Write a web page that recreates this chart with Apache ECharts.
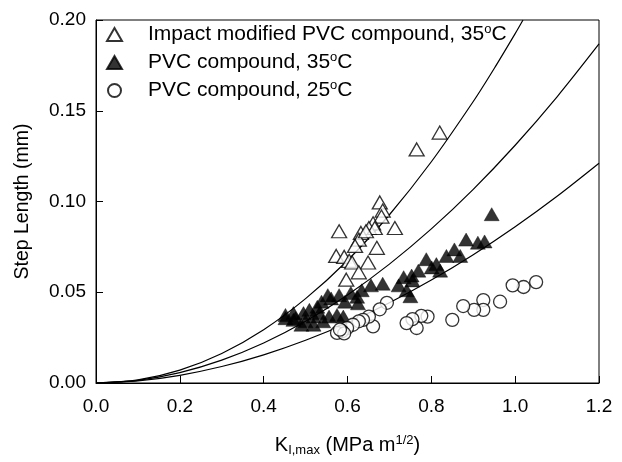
<!DOCTYPE html>
<html>
<head>
    <meta charset="UTF-8">
    <title>Step length vs K_I,max</title>
    <script src="https://cdn.jsdelivr.net/npm/echarts@6/dist/echarts.min.js"></script>
    <style>
        html, body { margin: 0; padding: 0; background: #fff; }
        #main { width: 622px; height: 462px; }
    </style>
</head>
<body>
    <div id="main"></div>
    <script type="text/javascript">
        // Series names
        const seriesNames = [
            'Impact modified PVC compound, 35°C',
            'PVC compound, 35°C',
            'PVC compound, 25°C'
        ];

        // Axis ticks
        const xTicks = [0.0, 0.2, 0.4, 0.6, 0.8, 1.0, 1.2];
        const yTicks = [0.00, 0.05, 0.10, 0.15, 0.20];

        // Impact modified PVC compound, 35 C (open triangles)
        const impactX = [0.820, 0.765, 0.677, 0.684, 0.713, 0.681, 0.661, 0.580, 0.651, 0.665,
                         0.632, 0.627, 0.618, 0.670, 0.573, 0.592, 0.604, 0.611, 0.649, 0.627,
                         0.597, 0.644];
        const impactY = [0.138, 0.1287, 0.0995, 0.095, 0.0854, 0.0917, 0.088, 0.0836, 0.0854, 0.0854,
                         0.0827, 0.079, 0.0755, 0.0745, 0.070, 0.0695, 0.0673, 0.0664, 0.0664, 0.061,
                         0.0569, 0.0836];

        // PVC compound, 35 C (filled triangles)
        const pvc35X = [0.944, 0.883, 0.911, 0.927, 0.855, 0.836, 0.869, 0.788, 0.812, 0.801,
                        0.821, 0.769, 0.753, 0.734, 0.722, 0.755, 0.741, 0.750, 0.684, 0.656,
                        0.634, 0.608, 0.623, 0.594, 0.625, 0.580, 0.553, 0.561, 0.538, 0.528,
                        0.509, 0.495, 0.471, 0.452, 0.452, 0.476, 0.500, 0.490, 0.519, 0.542,
                        0.556, 0.575, 0.590, 0.519, 0.533, 0.471];
        const pvc35Y = [0.093, 0.079, 0.0773, 0.078, 0.0736, 0.070, 0.070, 0.0682, 0.0655, 0.0637,
                        0.0619, 0.0619, 0.0592, 0.0583, 0.0538, 0.0565, 0.0511, 0.0478, 0.0547, 0.0538,
                        0.0511, 0.0496, 0.0475, 0.0448, 0.0439, 0.0484, 0.0484, 0.0466, 0.0448, 0.0420,
                        0.0403, 0.0385, 0.0385, 0.0375, 0.0357, 0.0357, 0.034, 0.0321, 0.0321, 0.034,
                        0.0366, 0.0375, 0.0366, 0.0366, 0.0385, 0.0348];

        // PVC compound, 25 C (open circles)
        const pvc25X = [1.050, 1.020, 0.994, 0.964, 0.924, 0.924, 0.902, 0.876, 0.850, 0.791,
                        0.776, 0.765, 0.755, 0.741, 0.694, 0.677, 0.661, 0.651, 0.637, 0.627,
                        0.613, 0.599, 0.587, 0.575, 0.592, 0.582];
        const pvc25Y = [0.0556, 0.0529, 0.0538, 0.0448, 0.0457, 0.0403, 0.0403, 0.0424, 0.0348, 0.0366,
                        0.037, 0.0303, 0.0352, 0.033, 0.0442, 0.0406, 0.0312, 0.0366, 0.0348, 0.034,
                        0.0321, 0.0303, 0.0285, 0.0276, 0.0273, 0.0294];

        // Fitted curves
        const fitX = [0, 0.1, 0.2, 0.3, 0.4, 0.5, 0.6, 0.7, 0.8, 0.9, 1.0, 1.1, 1.2];
        const fitImpactX = [0, 0.1, 0.2, 0.3, 0.4, 0.5, 0.6, 0.7, 0.8, 0.9, 0.95, 1.0, 1.0187];
        const fitImpactY = [0, 0.00172, 0.0071, 0.0163, 0.0294, 0.0465, 0.0675, 0.0927, 0.1219, 0.1551, 0.1733, 0.1925, 0.2];
        const fitPvc35Y = [0, 0.00149, 0.00573, 0.01259, 0.02203, 0.0340, 0.0485, 0.0655, 0.0849, 0.1067, 0.131, 0.1577, 0.1868];
        const fitPvc25Y = [0, 0.00116, 0.00425, 0.00907, 0.01553, 0.02357, 0.0331, 0.0442, 0.0567, 0.0707, 0.0861, 0.1029, 0.1211];

        const zip = (xs, ys) => xs.map((x, i) => [x, ys[i]]);

        const font = 'Liberation Sans';
        const chart = echarts.init(document.getElementById('main'));

        const lineSeries = (data) => ({
            type: 'line',
            data: data,
            smooth: 0.3,
            symbol: 'none',
            silent: true,
            z: 1,
            lineStyle: { color: '#000', width: 1.2 }
        });

        const option = {
            backgroundColor: '#fff',
            animation: false,
            textStyle: { fontFamily: font, color: '#000' },
            grid: {
                left: 96, right: 23, top: 20, bottom: 75,
                show: true, borderColor: '#000', borderWidth: 1
            },
            legend: {
                orient: 'vertical',
                left: 101,
                top: 18,
                itemWidth: 15,
                itemHeight: 13,
                itemGap: 6,
                data: seriesNames,
                formatter: name => name.replace('°', '{sup|o}'),
                textStyle: {
                    fontFamily: font,
                    fontSize: 21,
                    color: '#000',
                    padding: [0, 0, 0, 21],
                    rich: {
                        sup: { fontFamily: font, fontSize: 13, verticalAlign: 'top', padding: [0, 0, 10, 0] }
                    }
                }
            },
            xAxis: {
                type: 'value',
                min: 0,
                max: 1.2,
                interval: 0.2,
                name: '{k|K}{sub|I,max}{t| (MPa m}{sup|1/2}{t|)}',
                nameLocation: 'middle',
                nameGap: 51,
                nameTextStyle: {
                    rich: {
                        k: { fontFamily: font, fontSize: 20, color: '#000' },
                        t: { fontFamily: font, fontSize: 20, color: '#000' },
                        sub: { fontFamily: font, fontSize: 13, color: '#000', verticalAlign: 'bottom', padding: [10, 0, 0, 0] },
                        sup: { fontFamily: font, fontSize: 13, color: '#000', verticalAlign: 'top', padding: [0, 0, 10, 0] }
                    }
                },
                axisLine: { lineStyle: { color: '#000', width: 1 } },
                axisTick: { inside: true, length: 7, lineStyle: { color: '#000' } },
                axisLabel: {
                    fontFamily: font, fontSize: 19, color: '#000', margin: 14,
                    formatter: v => v.toFixed(1)
                },
                splitLine: { show: false }
            },
            yAxis: {
                type: 'value',
                min: 0,
                max: 0.2,
                interval: 0.05,
                name: 'Step Length (mm)',
                nameLocation: 'middle',
                nameGap: 63,
                nameTextStyle: { fontFamily: font, fontSize: 19.5, color: '#000' },
                axisLine: { lineStyle: { color: '#000', width: 1 } },
                axisTick: { inside: true, length: 7, lineStyle: { color: '#000' } },
                axisLabel: {
                    fontFamily: font, fontSize: 19, color: '#000', margin: 10,
                    formatter: v => v.toFixed(2)
                },
                splitLine: { show: false }
            },
            series: [
                {
                    name: seriesNames[0],
                    type: 'scatter',
                    symbol: 'triangle',
                    symbolSize: [15, 13],
                    z: 3,
                    itemStyle: { color: '#fff', borderColor: '#000', borderWidth: 1.3 },
                    data: zip(impactX, impactY)
                },
                {
                    name: seriesNames[1],
                    type: 'scatter',
                    symbol: 'triangle',
                    symbolSize: [15, 13],
                    z: 3,
                    itemStyle: { color: '#000', borderColor: '#000', borderWidth: 0.5 },
                    data: zip(pvc35X, pvc35Y)
                },
                {
                    name: seriesNames[2],
                    type: 'scatter',
                    symbol: 'circle',
                    symbolSize: 13,
                    z: 3,
                    itemStyle: { color: '#fff', borderColor: '#000', borderWidth: 1.3 },
                    data: zip(pvc25X, pvc25Y)
                },
                lineSeries(zip(fitImpactX, fitImpactY)),
                lineSeries(zip(fitX, fitPvc35Y)),
                lineSeries(zip(fitX, fitPvc25Y))
            ]
        };

        chart.setOption(option);
    </script>
</body>
</html>
